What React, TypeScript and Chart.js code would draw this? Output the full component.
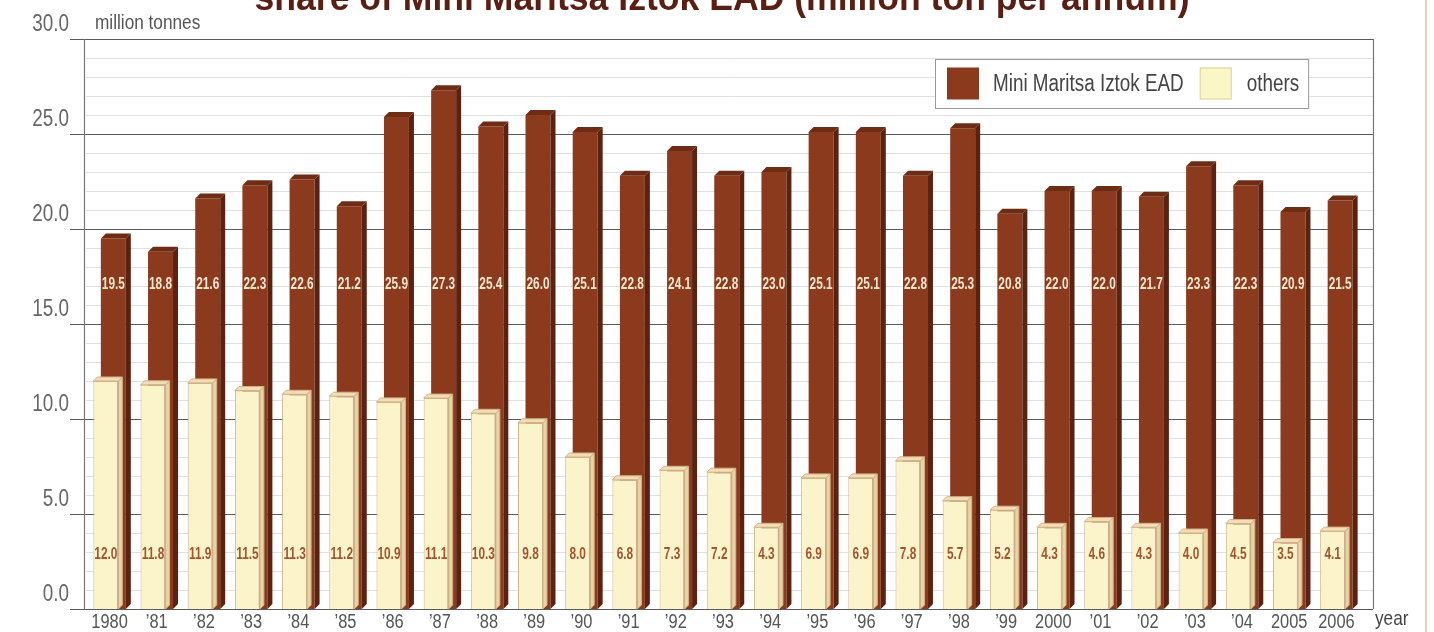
import React, { useEffect, useRef } from "react";
import { Chart, registerables } from "chart.js";

Chart.register(...registerables);

// ---------- data ----------
const years = [
  "1980", "’81", "’82", "’83", "’84", "’85", "’86", "’87", "’88", "’89",
  "’90", "’91", "’92", "’93", "’94", "’95", "’96", "’97", "’98", "’99",
  "2000", "’01", "’02", "’03", "’04", "2005", "2006",
];
const mmiTotals = [
  19.5, 18.8, 21.6, 22.3, 22.6, 21.2, 25.9, 27.3, 25.4, 26.0,
  25.1, 22.8, 24.1, 22.8, 23.0, 25.1, 25.1, 22.8, 25.3, 20.8,
  22.0, 22.0, 21.7, 23.3, 22.3, 20.9, 21.5,
];
const othersValues = [
  12.0, 11.8, 11.9, 11.5, 11.3, 11.2, 10.9, 11.1, 10.3, 9.8,
  8.0, 6.8, 7.3, 7.2, 4.3, 6.9, 6.9, 7.8, 5.7, 5.2,
  4.3, 4.6, 4.3, 4.0, 4.5, 3.5, 4.1,
];
const seriesNames = ["others", "Mini Maritsa Iztok EAD"];
const yMin = 0;
const yMax = 30;
const yStep = 1;
const yMajorEvery = 5;
const titleText = "share of Mini Maritsa Iztok EAD (million ton per annum)";
const unitText = "million tonnes";
const xAxisText = "year";

// ---------- style ----------
const W = 1434;
const H = 632;
const PLOT_LEFT = 86;
const PLOT_RIGHT = 1360;
const FRAME_RIGHT = 1373;
const PLOT_TOP = 39;
const PLOT_BOTTOM = 609;

const SANS = '"Liberation Sans", Arial, sans-serif';
const NARROW_X = 0.82;
const BROWN = "#8c3a1d";
const BROWN_SIDE = "#5c220f";
const BROWN_TOP = "#6e2c15";
const CREAM = "#fbf4cb";
const CREAM_SIDE = "#e6d4a6";
const CREAM_TOP = "#f3dcb6";
const CREAM_EDGE = "#cfb488";
const TOTAL_LABEL_AT = 17.1;
const OTHERS_LABEL_AT = 2.85;

function narrowText(
  ctx: CanvasRenderingContext2D,
  text: string,
  x: number,
  y: number,
  align: CanvasTextAlign,
  sx: number = NARROW_X
) {
  ctx.save();
  ctx.translate(x, y);
  ctx.scale(sx, 1);
  ctx.textAlign = align;
  ctx.fillText(text, 0, 0);
  ctx.restore();
}

const framePlugin = {
  id: "frame",
  beforeDatasetsDraw(chart: any) {
    const { ctx, chartArea } = chart;
    const y = chart.scales.y;
    ctx.save();
    const ticks = y.ticks as { value: number }[];
    ticks.forEach((t) => {
      if (t.value % yMajorEvery === 0) return;
      const py = Math.round(y.getPixelForValue(t.value)) + 0.5;
      ctx.strokeStyle = "#e0e0e0";
      ctx.lineWidth = 1;
      ctx.beginPath();
      ctx.moveTo(PLOT_LEFT, py);
      ctx.lineTo(FRAME_RIGHT, py);
      ctx.stroke();
    });
    ticks.forEach((t) => {
      if (t.value % yMajorEvery !== 0) return;
      const py = Math.round(y.getPixelForValue(t.value)) + 0.5;
      ctx.strokeStyle = "#5a5a5a";
      ctx.lineWidth = 1.2;
      ctx.beginPath();
      ctx.moveTo(PLOT_LEFT - 16, py);
      ctx.lineTo(FRAME_RIGHT, py);
      ctx.stroke();
    });
    ctx.strokeStyle = "#777";
    ctx.lineWidth = 1.2;
    ctx.beginPath();
    ctx.moveTo(PLOT_LEFT - 1.5, chartArea.top);
    ctx.lineTo(PLOT_LEFT - 1.5, chartArea.bottom);
    ctx.moveTo(FRAME_RIGHT + 0.5, chartArea.top);
    ctx.lineTo(FRAME_RIGHT + 0.5, chartArea.bottom);
    ctx.stroke();

    // y tick labels
    ctx.fillStyle = "#666";
    ctx.font = `23px ${SANS}`;
    ctx.textBaseline = "middle";
    ticks.forEach((t) => {
      if (t.value % yMajorEvery !== 0) return;
      narrowText(ctx, t.value.toFixed(1), PLOT_LEFT - 17, y.getPixelForValue(t.value) - 14, "right");
    });

    // x tick labels
    const x = chart.scales.x;
    ctx.fillStyle = "#555";
    ctx.font = `20px ${SANS}`;
    ctx.textBaseline = "top";
    (chart.data.labels as string[]).forEach((lab, i) => {
      narrowText(ctx, lab, x.getPixelForTick(i), chartArea.bottom + 3, "center");
    });
    ctx.restore();
  },
};

const bar3dPlugin = {
  id: "bar3d",
  afterDatasetDraw(chart: any, args: any) {
    const { ctx } = chart;
    const meta = args.meta;
    const isTotal = meta.index === 1;
    const d = isTotal ? 5 : 4;
    ctx.save();
    meta.data.forEach((el: any) => {
      const { x, y, base, width } = el.getProps(["x", "y", "base", "width"], true);
      const l = x - width / 2;
      const r = x + width / 2;
      ctx.beginPath();
      ctx.moveTo(r, y);
      ctx.lineTo(r + d, y - d);
      ctx.lineTo(r + d, base - d);
      ctx.lineTo(r, base);
      ctx.closePath();
      ctx.fillStyle = isTotal ? BROWN_SIDE : CREAM_SIDE;
      ctx.fill();
      if (!isTotal) {
        ctx.strokeStyle = CREAM_EDGE;
        ctx.lineWidth = 1;
        ctx.stroke();
      }
      ctx.beginPath();
      ctx.moveTo(l, y);
      ctx.lineTo(l + d, y - d);
      ctx.lineTo(r + d, y - d);
      ctx.lineTo(r, y);
      ctx.closePath();
      ctx.fillStyle = isTotal ? BROWN_TOP : CREAM_TOP;
      ctx.fill();
      if (!isTotal) {
        ctx.strokeStyle = CREAM_EDGE;
        ctx.lineWidth = 1;
        ctx.stroke();
      }
    });
    ctx.restore();
  },
};

const labelsPlugin = {
  id: "valueLabels",
  afterDatasetsDraw(chart: any) {
    const { ctx } = chart;
    const y = chart.scales.y;
    const mOthers = chart.getDatasetMeta(0);
    const mTotal = chart.getDatasetMeta(1);
    ctx.save();
    ctx.font = `bold 16px ${SANS}`;
    ctx.textBaseline = "middle";
    ctx.fillStyle = "#f6e7cf";
    mTotal.data.forEach((el: any, i: number) => {
      narrowText(ctx, mmiTotals[i].toFixed(1), el.x, y.getPixelForValue(TOTAL_LABEL_AT), "center", 0.74);
    });
    ctx.fillStyle = "#a5532e";
    mOthers.data.forEach((el: any, i: number) => {
      narrowText(ctx, othersValues[i].toFixed(1), el.x, y.getPixelForValue(OTHERS_LABEL_AT), "center", 0.74);
    });
    ctx.restore();
  },
};

const decorPlugin = {
  id: "decor",
  afterDraw(chart: any) {
    const { ctx, chartArea } = chart;
    ctx.save();
    // title (cut at the top edge)
    ctx.font = `bold 36px ${SANS}`;
    ctx.fillStyle = "#5a1e12";
    ctx.textBaseline = "alphabetic";
    const tw = ctx.measureText(titleText).width;
    narrowText(ctx, titleText, 722, 10, "center", 935 / tw);

    // unit label
    ctx.font = `21px ${SANS}`;
    ctx.fillStyle = "#555";
    ctx.textBaseline = "middle";
    narrowText(ctx, unitText, PLOT_LEFT + 9, 23, "left");

    // x axis name
    ctx.font = `21px ${SANS}`;
    ctx.fillStyle = "#444";
    narrowText(ctx, xAxisText, FRAME_RIGHT + 2, chartArea.bottom + 10, "left");

    // legend
    const lx = 935;
    const ly = 59;
    const lh = 49;
    ctx.font = `23px ${SANS}`;
    const t1 = seriesNames[1];
    const t2 = seriesNames[0];
    const w1 = ctx.measureText(t1).width * NARROW_X;
    const w2 = ctx.measureText(t2).width * NARROW_X;
    const sw = 32;
    const lw = 12 + sw + 14 + w1 + 16 + sw + 15 + w2 + 9;
    ctx.fillStyle = "#ffffff";
    ctx.fillRect(lx, ly, lw, lh);
    ctx.strokeStyle = "#9a9a9a";
    ctx.lineWidth = 1;
    ctx.strokeRect(lx + 0.5, ly + 0.5, lw, lh);
    let cx = lx + 12;
    const sy = ly + (lh - sw) / 2;
    ctx.fillStyle = BROWN;
    ctx.fillRect(cx, sy, sw, sw);
    cx += sw + 14;
    ctx.fillStyle = "#444";
    ctx.textBaseline = "middle";
    narrowText(ctx, t1, cx, ly + lh / 2 + 1, "left");
    cx += w1 + 16;
    ctx.fillStyle = "#fbf6c6";
    ctx.fillRect(cx, sy, sw, sw);
    ctx.strokeStyle = "#ddd0a0";
    ctx.strokeRect(cx + 0.5, sy + 0.5, sw - 1, sw - 1);
    cx += sw + 15;
    ctx.fillStyle = "#444";
    narrowText(ctx, t2, cx, ly + lh / 2 + 1, "left");

    // faint page edge line
    ctx.strokeStyle = "rgba(225,165,120,0.55)";
    ctx.lineWidth = 2;
    ctx.beginPath();
    ctx.moveTo(1426, 0);
    ctx.lineTo(1426, H);
    ctx.stroke();
    ctx.restore();
  },
};

export default function App() {
  const ref = useRef<HTMLCanvasElement | null>(null);

  useEffect(() => {
    if (!ref.current) return;
    const chart = new Chart(ref.current, {
      type: "bar",
      data: {
        labels: years,
        datasets: [
          {
            label: seriesNames[0],
            data: othersValues,
            backgroundColor: CREAM,
            borderColor: CREAM_EDGE,
            borderWidth: 1,
            categoryPercentage: 0.318,
            barPercentage: 3.33,
          },
          {
            label: seriesNames[1],
            data: mmiTotals,
            backgroundColor: BROWN,
            borderWidth: 0,
            categoryPercentage: 0.318,
            barPercentage: 3.33,
          },
        ],
      },
      options: {
        responsive: false,
        animation: false,
        events: [],
        layout: {
          padding: { top: PLOT_TOP, right: W - PLOT_RIGHT, left: PLOT_LEFT, bottom: H - PLOT_BOTTOM },
        },
        plugins: {
          legend: { display: false },
          tooltip: { enabled: false },
          title: { display: false },
        },
        scales: {
          x: { display: false },
          y: {
            display: false,
            min: yMin,
            max: yMax,
            ticks: { stepSize: yStep, autoSkip: false },
          },
        },
      } as any,
      plugins: [framePlugin, bar3dPlugin, labelsPlugin, decorPlugin],
    });
    return () => chart.destroy();
  }, []);

  return (
    <div style={{ position: "absolute", left: 0, top: 0, width: W, height: H, background: "#fff" }}>
      <canvas ref={ref} width={W} height={H} style={{ display: "block" }} />
    </div>
  );
}
